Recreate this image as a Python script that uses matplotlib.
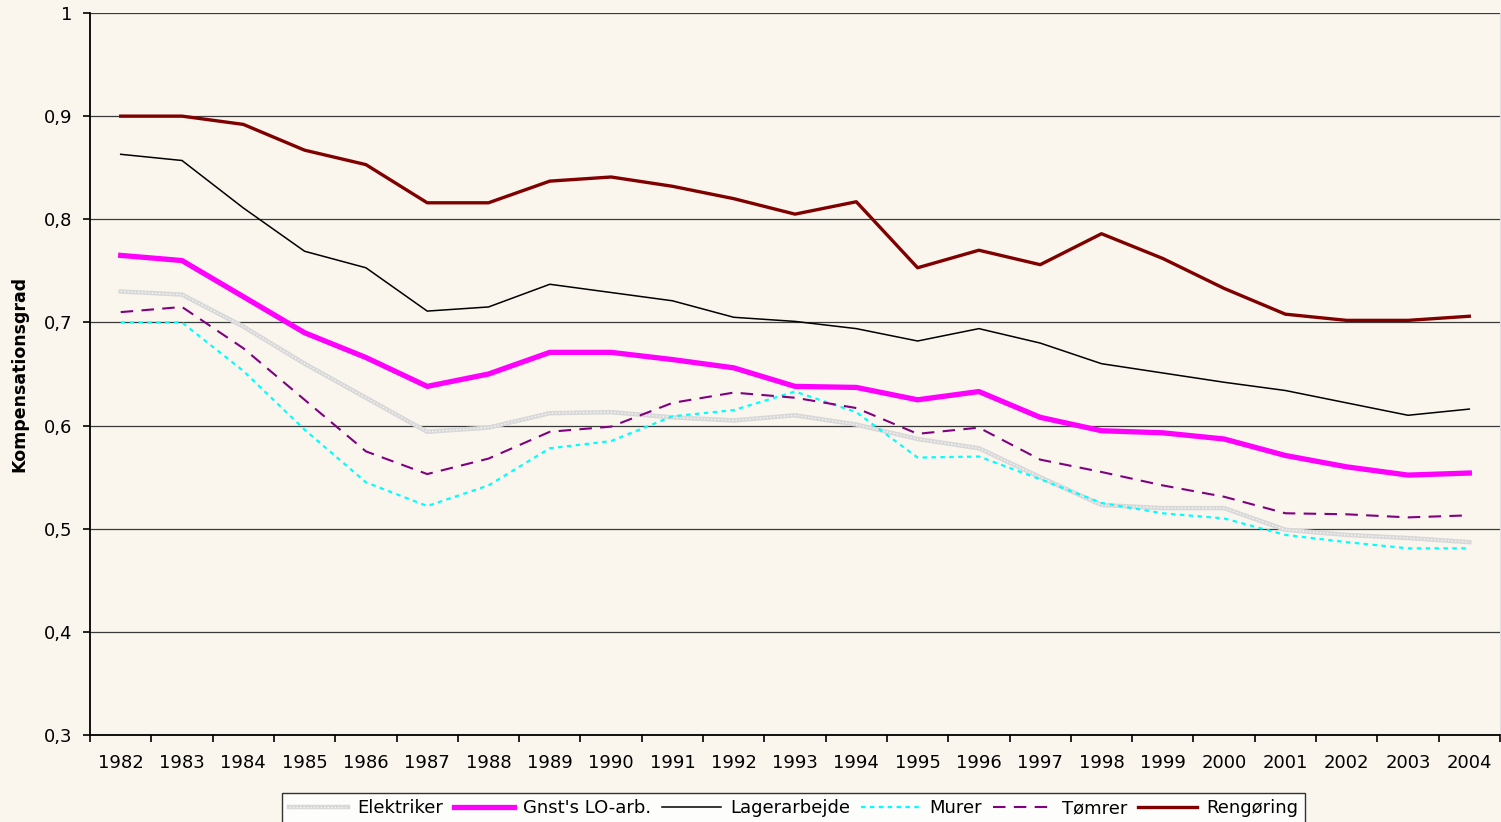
import matplotlib
matplotlib.use("Agg")
import matplotlib.pyplot as plt
from matplotlib.legend_handler import HandlerTuple

years = [str(y) for y in range(1982, 2005)]

elektriker = [0.730, 0.727, 0.696, 0.660, 0.627, 0.594, 0.598, 0.612, 0.613, 0.608, 0.605, 0.610,
              0.601, 0.587, 0.578, 0.550, 0.523, 0.520, 0.520, 0.499, 0.494, 0.491, 0.487]
gnst_lo = [0.765, 0.760, 0.725, 0.690, 0.666, 0.638, 0.650, 0.671, 0.671, 0.664, 0.656, 0.638,
           0.637, 0.625, 0.633, 0.608, 0.595, 0.593, 0.587, 0.571, 0.560, 0.552, 0.554]
lagerarbejde = [0.863, 0.857, 0.811, 0.769, 0.753, 0.711, 0.715, 0.737, 0.729, 0.721, 0.705, 0.701,
                0.694, 0.682, 0.694, 0.680, 0.660, 0.651, 0.642, 0.634, 0.622, 0.610, 0.616]
murer = [0.700, 0.700, 0.653, 0.596, 0.545, 0.522, 0.542, 0.578, 0.585, 0.609, 0.615, 0.633,
         0.613, 0.569, 0.570, 0.548, 0.525, 0.515, 0.510, 0.494, 0.487, 0.481, 0.481]
toemrer = [0.710, 0.715, 0.675, 0.625, 0.575, 0.553, 0.568, 0.594, 0.599, 0.622, 0.632, 0.627,
           0.617, 0.592, 0.598, 0.567, 0.555, 0.542, 0.531, 0.515, 0.514, 0.511, 0.513]
rengoering = [0.900, 0.900, 0.892, 0.867, 0.853, 0.816, 0.816, 0.837, 0.841, 0.832, 0.820, 0.805,
              0.817, 0.753, 0.770, 0.756, 0.786, 0.762, 0.733, 0.708, 0.702, 0.702, 0.706]

ytick_vals = [0.3, 0.4, 0.5, 0.6, 0.7, 0.8, 0.9, 1.0]
ytick_labels = ["0,3", "0,4", "0,5", "0,6", "0,7", "0,8", "0,9", "1"]

plt.rcParams['font.family'] = ['DejaVu Sans']
bg = '#FAF6EE'

fig = plt.figure(figsize=(15.01, 8.22), dpi=100)
fig.patch.set_facecolor(bg)
ax = fig.add_axes([0.06, 0.1058, 0.9393, 0.8784])
ax.set_facecolor(bg)

x = list(range(len(years)))

# Elektriker: light gray patterned line
e1, = ax.plot(x, elektriker, color='#D8D8D8', lw=3.2, solid_joinstyle='round', zorder=3)
e2, = ax.plot(x, elektriker, color='#F6F6F6', lw=1.0, ls=(0, (1, 1.5)), zorder=3)
g, = ax.plot(x, gnst_lo, color='#FF00FF', lw=3.8, solid_joinstyle='round', zorder=4)
l, = ax.plot(x, lagerarbejde, color='black', lw=1.1, zorder=4)
m, = ax.plot(x, murer, color='#00FFFF', lw=1.6, ls=(0, (2, 2)), zorder=4)
t, = ax.plot(x, toemrer, color='#800080', lw=1.5, ls=(0, (6, 4)), zorder=4)
r, = ax.plot(x, rengoering, color='#800000', lw=2.4, solid_joinstyle='round', zorder=5)

ax.set_xlim(-0.5, len(years) - 0.5)
ax.set_ylim(0.3, 1.0)

ax.set_yticks(ytick_vals)
ax.set_yticklabels(ytick_labels, fontsize=13)
ax.yaxis.grid(True, color='#3A3A3A', lw=0.9)
ax.set_axisbelow(True)

ax.set_xticks([i - 0.5 for i in range(len(years) + 1)])
ax.set_xticklabels([])
ax.set_xticks(x, minor=True)
ax.set_xticklabels(years, minor=True, fontsize=13)
ax.tick_params(axis='x', which='minor', length=0, pad=14)
ax.tick_params(axis='x', which='major', length=5, width=1.2, direction='out')
ax.tick_params(axis='y', length=5, width=1.2, direction='out', pad=8)

ax.spines['top'].set_visible(False)
ax.spines['right'].set_color('#E0E0E0')
ax.spines['left'].set_linewidth(1.3)
ax.spines['bottom'].set_linewidth(1.3)

ax.set_ylabel('Kompensationsgrad', fontsize=12.5, fontweight='bold')
ax.yaxis.set_label_coords(-0.0438, 0.5)

handles = [(e1, e2), g, l, m, t, r]
labels = ['Elektriker', "Gnst's LO-arb.", 'Lagerarbejde', 'Murer', 'Tømrer', 'Rengøring']
leg = fig.legend(handles, labels, loc='upper center', bbox_to_anchor=(0.5287, 0.0353),
                 ncol=6, fontsize=13, frameon=True, fancybox=False, edgecolor='black',
                 facecolor='white', handlelength=3.3, handletextpad=0.5, columnspacing=0.6,
                 borderpad=0.35, borderaxespad=0,
                 handler_map={tuple: HandlerTuple(ndivide=1, pad=0)})
leg.get_frame().set_linewidth(1.0)

fig.savefig('out.png', dpi=100, facecolor=bg)
